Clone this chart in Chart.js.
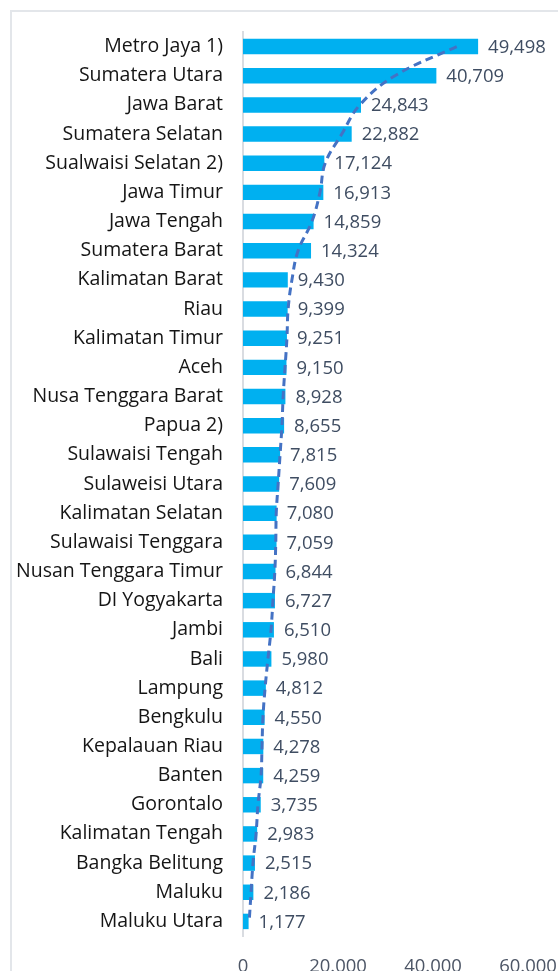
<!DOCTYPE html>
<html>
<head>
<meta charset="utf-8">
<script src="https://cdn.jsdelivr.net/npm/chart.js@4"></script>
<style>
  html, body { margin: 0; padding: 0; background: #fff; overflow: hidden; }
  #wrap { position: relative; width: 558px; height: 971px; overflow: hidden; }
  #frame { position: absolute; left: 10px; top: 10px; width: 700px; height: 1100px; border: 2px solid #e3e6ea; }
  canvas { position: absolute; left: 0; top: 0; }
</style>
</head>
<body>
<div id="wrap">
  <div id="frame"></div>
  <canvas id="grafico" width="558" height="971"></canvas>
</div>
<script>
// provinsi, urut dari terbesar
var provinces = [
  'Metro Jaya 1)', 'Sumatera Utara', 'Jawa Barat', 'Sumatera Selatan', 'Sualwaisi Selatan 2)',
  'Jawa Timur', 'Jawa Tengah', 'Sumatera Barat', 'Kalimatan Barat', 'Riau',
  'Kalimatan Timur', 'Aceh', 'Nusa Tenggara Barat', 'Papua 2)', 'Sulawaisi Tengah',
  'Sulaweisi Utara', 'Kalimatan Selatan', 'Sulawaisi Tenggara', 'Nusan Tenggara Timur', 'DI Yogyakarta',
  'Jambi', 'Bali', 'Lampung', 'Bengkulu', 'Kepalauan Riau',
  'Banten', 'Gorontalo', 'Kalimatan Tengah', 'Bangka Belitung', 'Maluku',
  'Maluku Utara'
];
var values = [
  49498, 40709, 24843, 22882, 17124,
  16913, 14859, 14324, 9430, 9399,
  9251, 9150, 8928, 8655, 7815,
  7609, 7080, 7059, 6844, 6727,
  6510, 5980, 4812, 4550, 4278,
  4259, 3735, 2983, 2515, 2186,
  1177
];
// garis tren
var trendValues = [
  45000, 32000, 24600, 20800, 17300,
  16200, 14500, 11600, 10300, 9500,
  9250, 8850, 8450, 8200, 7800,
  7400, 7000, 6900, 6700, 6300,
  5900, 5250, 4650, 4200, 4000,
  3800, 3150, 2750, 2100, 1700,
  1300
];
var xTicks = [0, 20000, 40000, 60000];
var xTickLabels = ['0', '20.000', '40.000', '60.000'];

var labelPlugin = {
  id: 'barLabels',
  afterDatasetsDraw: function (chart) {
    var ctx = chart.ctx;
    var meta = chart.getDatasetMeta(0);
    ctx.save();
    ctx.font = '18.5px "Open Sans"';
    ctx.fillStyle = '#3f4d62';
    ctx.textAlign = 'left';
    ctx.textBaseline = 'middle';
    meta.data.forEach(function (bar, i) {
      ctx.fillText(values[i].toLocaleString('en-US'), bar.x + 10, bar.y + 1);
    });
    ctx.restore();
  }
};

var ctx = document.getElementById('grafico').getContext('2d');
var grafico = new Chart(ctx, {
  type: 'bar',
  data: {
    labels: provinces,
    datasets: [
      {
        data: values,
        backgroundColor: '#00b0f0',
        borderWidth: 0,
        barPercentage: 0.53,
        categoryPercentage: 1,
        order: 1
      },
      {
        type: 'line',
        data: trendValues,
        borderColor: '#4472c4',
        borderWidth: 3,
        borderDash: [8, 5],
        pointRadius: 0,
        fill: false,
        tension: 0.4,
        order: 0
      }
    ]
  },
  options: {
    indexAxis: 'y',
    responsive: false,
    devicePixelRatio: 1,
    animation: false,
    layout: { padding: { top: 32, left: 0, right: 30, bottom: 0 } },
    plugins: {
      legend: { display: false },
      tooltip: { enabled: false }
    },
    scales: {
      x: {
        min: 0,
        max: 60000,
        afterBuildTicks: function (s) {
          s.ticks = xTicks.map(function (v) { return { value: v }; });
        },
        afterFit: function (s) {
          s.height = 35;
          s.paddingLeft = 0;
          s.paddingRight = 0;
        },
        grid: { display: false, drawTicks: false },
        border: { display: false },
        ticks: {
          padding: 20,
          color: '#4d5666',
          font: { family: 'Open Sans', size: 18.5 },
          maxRotation: 0,
          callback: function (v, i) { return xTickLabels[i]; }
        }
      },
      y: {
        afterFit: function (s) {
          s.width = 243;
          s.paddingTop = 0;
          s.paddingBottom = 0;
        },
        grid: { display: false, drawTicks: false },
        border: { display: true, color: '#d9dce1', width: 2 },
        ticks: {
          autoSkip: false,
          padding: 20,
          color: '#151515',
          font: { family: 'Open Sans', size: 19.5 }
        }
      }
    }
  },
  plugins: [labelPlugin]
});
</script>
</body>
</html>
